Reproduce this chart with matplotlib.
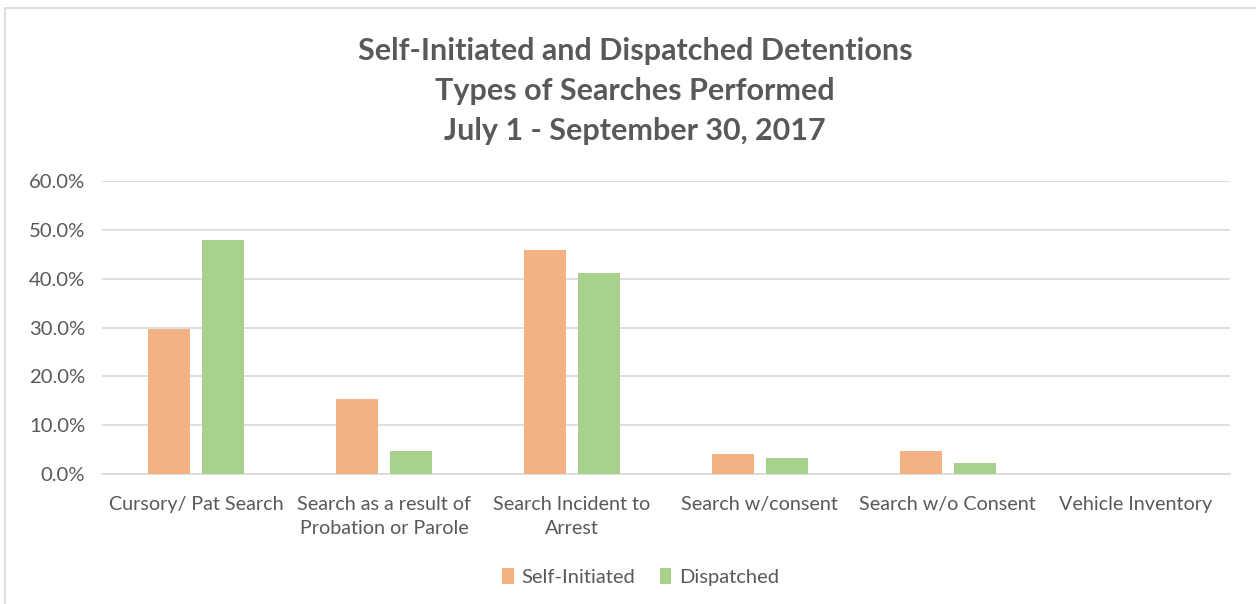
import matplotlib.pyplot as plt
import matplotlib.ticker as mticker
import numpy as np

# data
categories = ['Cursory/ Pat Search', 'Search as a result of\nProbation or Parole',
              'Search Incident to\nArrest', 'Search w/consent',
              'Search w/o Consent', 'Vehicle Inventory']
self_initiated = [29.6, 15.4, 45.8, 4.1, 4.8, 0.0]
dispatched = [47.9, 4.8, 41.2, 3.3, 2.3, 0.0]
y_ticks = [0, 10, 20, 30, 40, 50, 60]

plt.rcParams['font.family'] = ['Lato', 'DejaVu Sans']
text_color = '#595959'

fig = plt.figure(figsize=(12.56, 6.04), dpi=100)
ax = fig.add_axes([0.0812, 0.2152, 0.8978, 0.4851])

x = np.arange(len(categories))
w = 0.223
ax.bar(x - 0.144, self_initiated, w, color='#F4B183', label='Self-Initiated', zorder=3)
ax.bar(x + 0.144, dispatched, w, color='#A9D18E', label='Dispatched', zorder=3)

ax.set_xlim(-0.5, len(categories) - 0.5)
ax.set_ylim(0, 60)
ax.set_yticks(y_ticks)
ax.yaxis.set_major_formatter(mticker.StrMethodFormatter('{x:.1f}%'))
ax.set_xticks(x)
ax.set_xticklabels(categories, fontsize=14.2, color=text_color, linespacing=1.45)
ax.tick_params(axis='y', labelsize=14.6, labelcolor=text_color, length=0, pad=12)
ax.tick_params(axis='x', length=0, pad=16)
ax.grid(axis='y', color='#D9D9D9', linewidth=1.2, zorder=0)
for s in ['top', 'right', 'left']:
    ax.spines[s].set_visible(False)
ax.spines['bottom'].set_color('#D9D9D9')
ax.spines['bottom'].set_linewidth(1.2)

# titles
title_lines = ['Self-Initiated and Dispatched Detentions',
               'Types of Searches Performed',
               'July 1 - September 30, 2017']
for i, t in enumerate(title_lines):
    fig.text(0.5055, 1 - (51 + 40 * i) / 604, t, ha='center', va='center',
             fontsize=22, fontweight='bold', color=text_color)

fig.legend(loc='center', bbox_to_anchor=(0.51, 1 - 577 / 604), ncol=2,
           frameon=False, fontsize=14.5, labelcolor=text_color,
           handlelength=0.55, handleheight=0.8, handletextpad=0.4, columnspacing=1.2)

# chart border
fig.add_artist(plt.Line2D([5 / 1256, 1], [1 - 8 / 604, 1 - 8 / 604], color='#D9D9D9', lw=1.2))
fig.add_artist(plt.Line2D([5 / 1256, 5 / 1256], [0, 1 - 8 / 604], color='#D9D9D9', lw=1.2))

fig.savefig('out.png', dpi=100, facecolor='white')
